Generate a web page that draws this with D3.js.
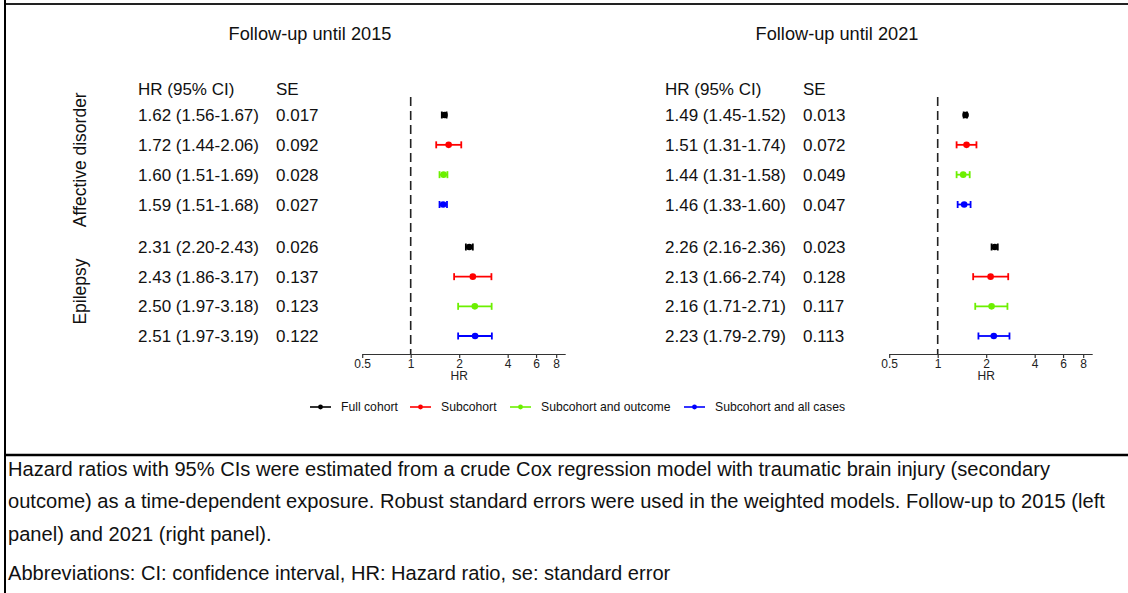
<!DOCTYPE html>
<html>
<head>
<meta charset="utf-8">
<script src="https://cdn.jsdelivr.net/npm/d3@7/dist/d3.min.js"></script>
<style>
  html, body { margin: 0; padding: 0; background: #fff; }
  svg { display: block; font-family: "Liberation Sans", Arial, sans-serif; }
</style>
</head>
<body>
<svg id="chart" width="1128" height="593"></svg>
<script>
// ---------- data ----------
const outcomes = ["Affective disorder", "Epilepsy"];
const seriesNames = ["Full cohort", "Subcohort", "Subcohort and outcome", "Subcohort and all cases"];
const seriesColors = ["#000000", "#ff0000", "#6cf000", "#0000ff"];
const panelTitles = ["Follow-up until 2015", "Follow-up until 2021"];
const tickValues = [0.5, 1, 2, 4, 6, 8];
const tickLabels = ["0.5", "1", "2", "4", "6", "8"];

// 2015 panel: per outcome, per series
const hr2015 = [[1.62, 1.72, 1.60, 1.59], [2.31, 2.43, 2.50, 2.51]];
const lo2015 = [[1.56, 1.44, 1.51, 1.51], [2.20, 1.86, 1.97, 1.97]];
const hi2015 = [[1.67, 2.06, 1.69, 1.68], [2.43, 3.17, 3.18, 3.19]];
const se2015 = [["0.017", "0.092", "0.028", "0.027"], ["0.026", "0.137", "0.123", "0.122"]];

// 2021 panel
const hr2021 = [[1.49, 1.51, 1.44, 1.46], [2.26, 2.13, 2.16, 2.23]];
const lo2021 = [[1.45, 1.31, 1.31, 1.33], [2.16, 1.66, 1.71, 1.79]];
const hi2021 = [[1.52, 1.74, 1.58, 1.60], [2.36, 2.74, 2.71, 2.79]];
const se2021 = [["0.013", "0.072", "0.049", "0.047"], ["0.023", "0.128", "0.117", "0.113"]];

const footnoteLines = [
  "Hazard ratios with 95% CIs were estimated from a crude Cox regression model with traumatic brain injury (secondary",
  "outcome) as a time-dependent exposure. Robust standard errors were used in the weighted models. Follow-up to 2015 (left",
  "panel) and 2021 (right panel).",
  "Abbreviations: CI: confidence interval, HR: Hazard ratio, se: standard error"
];

// ---------- layout ----------
const svg = d3.select("#chart");
svg.append("rect").attr("width", 1128).attr("height", 593).attr("fill", "#fff");

// frame lines
svg.append("line").attr("x1", 4).attr("x2", 1128).attr("y1", 4).attr("y2", 4)
  .attr("stroke", "#222").attr("stroke-width", 2);
svg.append("line").attr("x1", 5).attr("x2", 5).attr("y1", 0).attr("y2", 593)
  .attr("stroke", "#000").attr("stroke-width", 2);
svg.append("line").attr("x1", 4).attr("x2", 1128).attr("y1", 455).attr("y2", 455)
  .attr("stroke", "#000").attr("stroke-width", 2.5);

const fmt = d3.format(".2f");

const yAff = d3.scalePoint().domain([0, 1, 2, 3]).range([115, 204.5]);
const yEpi = d3.scalePoint().domain([0, 1, 2, 3]).range([247, 336]);
const yRow = (i, j) => (i === 0 ? yAff(j) : yEpi(j));

const panels = [
  { title: panelTitles[0], hr: hr2015, lo: lo2015, hi: hi2015, se: se2015, dx: 0 },
  { title: panelTitles[1], hr: hr2021, lo: lo2021, hi: hi2021, se: se2021, dx: 527 }
];

const axisY = 354;
const rowFont = 17;

panels.forEach((p, pi) => {
  const g = svg.append("g").attr("transform", `translate(${p.dx},0)`);

  g.append("text").attr("x", 310).attr("y", 39.5).attr("text-anchor", "middle")
    .attr("font-size", 18.2).attr("fill", "#111").text(p.title);

  // table header
  g.append("text").attr("x", 138).attr("y", 94.5).attr("font-size", rowFont).attr("fill", "#111").text("HR (95% CI)");
  g.append("text").attr("x", 276).attr("y", 94.5).attr("font-size", rowFont).attr("fill", "#111").text("SE");

  const x = d3.scaleLog().base(2).domain([0.5, 9.1]).range([362.2, 565.2]);

  // reference line
  g.append("line").attr("x1", x(1)).attr("x2", x(1)).attr("y1", 97).attr("y2", axisY)
    .attr("stroke", "#222").attr("stroke-width", 1.6).attr("stroke-dasharray", "9,5");

  // axis
  const axis = d3.axisBottom(x).tickValues(tickValues)
    .tickFormat((d, i) => tickLabels[i]).tickSize(4).tickSizeOuter(0).tickPadding(1);
  const ag = g.append("g").attr("transform", `translate(0,${axisY})`).call(axis);
  ag.select(".domain").attr("stroke", "#333").attr("stroke-width", 1.2);
  ag.selectAll(".tick line").attr("stroke", "#333").attr("stroke-width", 1.2);
  ag.selectAll(".tick text").attr("font-size", 12).attr("fill", "#222")
    .attr("font-family", "'Liberation Sans', Arial, sans-serif");
  g.append("text").attr("x", x(2)).attr("y", 380).attr("text-anchor", "middle")
    .attr("font-size", 12).attr("fill", "#222").text("HR");

  outcomes.forEach((o, i) => {
    seriesNames.forEach((s, j) => {
      const y = yRow(i, j);
      const col = seriesColors[j];
      const hr = p.hr[i][j], lo = p.lo[i][j], hi = p.hi[i][j];
      g.append("text").attr("x", 138).attr("y", y + 6).attr("font-size", rowFont).attr("fill", "#111")
        .text(`${fmt(hr)} (${fmt(lo)}-${fmt(hi)})`);
      g.append("text").attr("x", 276).attr("y", y + 6).attr("font-size", rowFont).attr("fill", "#111")
        .text(p.se[i][j]);
      // error bar
      g.append("line").attr("x1", x(lo)).attr("x2", x(hi)).attr("y1", y).attr("y2", y)
        .attr("stroke", col).attr("stroke-width", 1.8);
      [lo, hi].forEach(v => {
        g.append("line").attr("x1", x(v)).attr("x2", x(v)).attr("y1", y - 3.5).attr("y2", y + 3.5)
          .attr("stroke", col).attr("stroke-width", 1.8);
      });
      g.append("circle").attr("cx", x(hr)).attr("cy", y).attr("r", 3.3).attr("fill", col);
    });
  });

  if (pi === 0) {
    g.append("text").attr("transform", `translate(86,${(yAff(0) + yAff(3)) / 2}) rotate(-90)`)
      .attr("text-anchor", "middle").attr("font-size", 17.5).attr("fill", "#111").text(outcomes[0]);
    g.append("text").attr("transform", `translate(86,${(yEpi(0) + yEpi(3)) / 2}) rotate(-90)`)
      .attr("text-anchor", "middle").attr("font-size", 17.5).attr("fill", "#111").text(outcomes[1]);
  }
});

// legend
const legendX = [310, 410, 510, 684];
const lg = svg.append("g");
seriesNames.forEach((s, j) => {
  const lx = legendX[j], ly = 407;
  lg.append("line").attr("x1", lx).attr("x2", lx + 21).attr("y1", ly).attr("y2", ly)
    .attr("stroke", seriesColors[j]).attr("stroke-width", 1.6);
  lg.append("circle").attr("cx", lx + 10.5).attr("cy", ly).attr("r", 2.4).attr("fill", seriesColors[j]);
  lg.append("text").attr("x", lx + 31).attr("y", ly + 4.3).attr("font-size", 12.2).attr("fill", "#111").text(s);
});

// footnote
const footY = [476, 508, 541, 580];
footnoteLines.forEach((t, i) => {
  svg.append("text").attr("x", 8).attr("y", footY[i]).attr("font-size", 20.1).attr("fill", "#111").text(t);
});
</script>
</body>
</html>
